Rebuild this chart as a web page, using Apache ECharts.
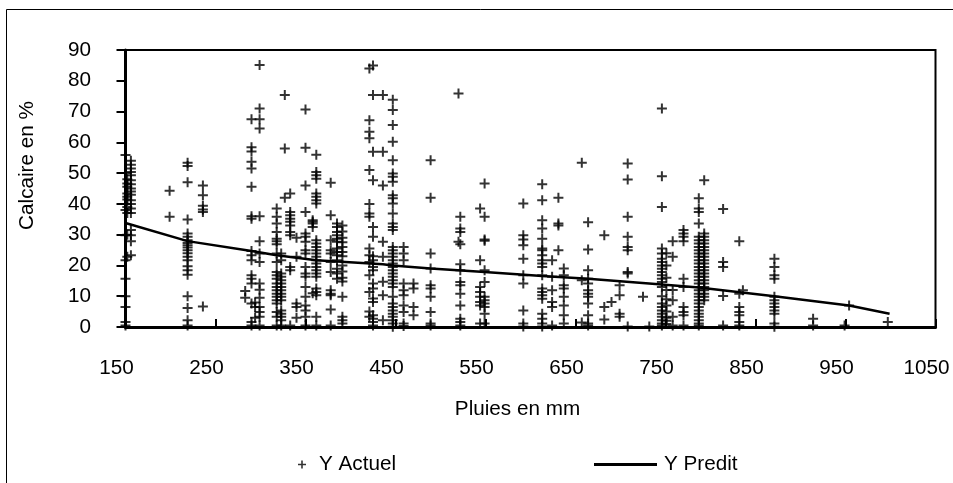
<!DOCTYPE html>
<html><head><meta charset="utf-8">
<style>html,body{margin:0;padding:0;background:#fff}#c{width:953px;height:483px}</style>
<script src="https://cdn.jsdelivr.net/npm/echarts@6/dist/echarts.min.js"></script>
</head><body><div id="c"></div>
<script>
const xTicks=[150,250,350,450,550,650,750,850,950,1050];
const yTicks=[0,10,20,30,40,50,60,70,80,90];
const pluies=[150,152,156,199,219,236,283,290,294,299,318,323,327,333,340,350,362,358,378,385,391,421,425,436,447,459,470,489,520,522,544,549,592,613,624,631,637,657,664,682,690,699,708,725,732,746,751,758,770,787,793,814,832,836,871,914,949,954,997];
const calcaire=[
[55.9,50,40,38,29.8,21.7,15.7,10,6.5,1.6,0.5],
[46.6,45.6,43.4,42.3,41.4,39,30,22.8,37,48],
[54,52.7,51.5,50.4,49.3,47.7,46.4,45,44,43,41.2,40,38.5,37,31.5,29.8,27.9,23.3],
[44.3,35.8],
[53.4,52.3,47,34.9,30.4,29.3,28.2,27.3,26.6,25.8,24.9,24,22.8,21.7,19.7,18.4,17,10,6.2,2.2,0.5],
[46,42.8,39.4,38.2,37.4,6.7],
[11.7,9.5],
[67.5,58.4,57,53.7,51.5,45.6,36,35.2,24.7,23.3,21.7,16.8,15.7,14.1,7.6,1.6,0.5],
[8,6.5,3],
[85.1,71,67.5,64.5,36,27.9,23.9,21.1,14.1,12.1,9.5,6.5,4.9,3.3,0.5],
[38.5,35.8,33.6,30.9,28.7,27.9,26.9,23.9,21.1,17.9,16.8,15.7,14.1,13,11.9,10.8,9.8,8.7,7.6,4.9,3.3,0.5],
[23.9,21.7,17.4,16.3,15.2,14.1,13,11.9,10.8,9.8,8.7,5.4,4.3,3.3,2.2,0.5],
[75.4,58,42],
[43.4,37.4,36.3,35.2,34.2,33,30.9,29.8,19.5,18.4,0.5],
[29,22.8,7.6,6.5,3],
[70.7,58.2,46,37.4,30.4,29.3,27.7,24.9,23.9,19.5,17.4,16.3,13,9.8,7,5.4,3.3,0.5],
[56,50.4,49.3,48.2,43.4,42.3,41.2,40.1,28.2,27.1,26,24.9,23.9,22.8,21.7,20.6,19.5,18.4,17.4,16.3,12.5,11.4,10.3,3.3,0.5],
[34.7,33.6,34.2,32.5,11],
[46.9,36.3,28.2,24.9,23.9,21.1,17.9,11.9,10.8,10.3,5.7,0.5],
[33.6,32.5,30.9,29.8,28.7,27.7,25.5,24.4,23.3,21.7,18.9,17.4,15.7],
[33,31,29,27.5,26,24.4,23,20,18,16,14.8,9.8,3.3,2.2,1.1],
[84,67.2,63.4,61.3,51,40,36.9,35.8,25.5,23.3,21.1,16.8,11.4,5,3.3],
[85,75.4,56.9,47.7,32.5,29.3,23,21.7,19.5,18.4,14.1,12.5,9.3,8.1,3.8,2.7,1.6,0.5],
[75.4,56.9,46,27.7,22.8,14.7,10.3,2.2],
[73.8,70.5,65.6,60.2,54.2,49.9,48.8,47.2,42.8,41.8,40.1,36.9,33.6,32.5,31.5,26,24.9,23.9,22.8,21.7,20.6,19.5,18.4,17.4,16.3,15.2,14.1,13,9.8,7.6,6.5,5.4,4.3,3.3,2.2,1.1,0.1],
[26,23.9,21.7,14.1,11.9,10.3,7,4.9,1.1,0.3],
[14.1,12.5,6.5,3.8],
[54.2,42,23.9,19,13.6,12.5,9.8,4.9,1.1,0.5],
[75.9,27.7],
[35.8,32,30.9,26.9,20.4,18.4,14.6,13.6,10.8,7,2.7,1.6,0.5],
[38.5,21.7,13,11.4,9.8,8.1,7,1.1],
[46.6,35.8,28.4,28,18.4,14.6,9.8,8.7,7.6,6.5,4.3,1.1],
[40.1,29.8,28.4,26.6,22.2,16.8,14.1,5.4,1.1,0.2],
[46.4,41.2,34.7,32,28.7,25.5,24.9,23.3,21.7,20.6,19.5,16.8,12.5,11.4,10.3,9.2,4.3,2.7,1.1,0.2],
[21.7,16.3,11.9,8.1,6.5,0.5],
[42,33.6,33,24.9],
[19,16.8,13.6,12.5,9.8,7,3.8,1.1],
[53.4,15.2,1.5],
[34,25.2,18.4,15.7,14.1,11.9,10.8,9.8,7.6,3.8,1.1,0.5],
[29.8,6.5,2.4],
[8.1],
[13.6,10.3,4.3,3.3],
[53.1,47.9,35.8,29.3,26,24.9,17.9,17.4,0.2],
[9.8],
[0.2],
[71,49,39,25.5,23.9,22.2,21.1,20,18.9,17.9,16.8,15.7,14.6,13,10,7.6,6.5,5.4,4.3,3.3,2.2,1.1,0.5],
[24,20,16,12,9,7,5,3,2,1],
[27.9,22.8,12,8.7,3.3,0.5],
[31.5,30.4,29.3,27.9,15.7,13,6.5,4.9,3.8,0.5],
[41.8,38.5,37.4,33.6,29.3,28.2,27.1,26,24.9,23.9,22.8,21.7,20.6,19.5,18.4,17.4,16.3,15.2,14.1,13,11.9,10.8,9.8,8.7,7.6,6.5,5.4,4.3,3.3,2.2,1.1,0.5],
[47.7,30.4,29.3,28.2,27.1,26,24.9,23.9,22.8,21.7,20.6,19.5,18.4,17.4,16.3,15.2,14.1,13,11.9,10.8,9.8,8.7],
[38.3,21.1,19.5,10.1,0.5],
[27.9,10.8,6.5,4.9,3.8,1.6,0.5],
[11.9],
[22.2,19.5,16.8,15.7,9.8,8.7,7.6,6.5,5.4,4.3,1.1,0.1],
[2.7,0.5],
[0.5],
[7],
[1.6]
];
const predX=[150,219,290,318,362,436,447,489,549,613,664,746,787,871,954,999];
const predY=[33.8,27.9,24.7,23.3,21.7,20.4,20,19,17.9,16.6,15.7,13.8,12.8,10,7,4.3];

const actual=[];
pluies.forEach((x,i)=>calcaire[i].forEach(y=>actual.push([x,y])));
const predicted=predX.map((x,i)=>[x,predY[i]]);
const plus='path://M4 0h2v4h4v2H6v4H4V6H0V4h4z';
const font={color:'#000',fontFamily:'"Liberation Sans",Arial,sans-serif',fontSize:20.7};
const chart=echarts.init(document.getElementById('c'),null,{renderer:'canvas'});
chart.setOption({
 animation:false,backgroundColor:'#fff',
 graphic:[{type:'rect',silent:true,shape:{x:6.5,y:9.5,width:960,height:480},style:{fill:'none',stroke:'#000',lineWidth:1}}],
 grid:{left:125.5,top:50,width:810,height:277,show:true,borderColor:'#000',borderWidth:2,backgroundColor:'#fff',outerBoundsMode:'none'},
 legend:[
  {data:[{name:'Y Actuel',icon:plus}],left:298,top:454,padding:0,itemWidth:8,itemHeight:8,itemGap:13,textStyle:{...font,padding:[0,0,0,8]}},
  {data:[{name:'Y Predit',icon:'rect'}],left:594,top:454,padding:0,itemWidth:63,itemHeight:3,itemGap:9,textStyle:{...font,padding:[0,0,0,2]}}
 ],
 xAxis:{type:'value',min:150,max:1050,name:'Pluies en mm',nameLocation:'middle',nameGap:72,
  nameTextStyle:{...font,padding:[0,26,0,0]},
  axisLine:{show:true,lineStyle:{color:'#000',width:3}},
  axisTick:{show:true,inside:true,length:8,customValues:xTicks,lineStyle:{color:'#000',width:2}},
  axisLabel:{...font,margin:31,customValues:xTicks,padding:[0,18,0,0],formatter:v=>String(v)},splitLine:{show:false}},
 yAxis:{type:'value',min:0,max:90,interval:10,name:'Calcaire en %',nameLocation:'middle',nameGap:88,
  nameTextStyle:{...font,padding:[0,0,0,46]},
  axisLine:{show:true,lineStyle:{color:'#000',width:3}},
  axisTick:{show:true,inside:false,length:9,lineStyle:{color:'#000',width:2}},
  axisLabel:{...font,margin:34.5},splitLine:{show:false}},
 series:[
  {name:'Y Actuel',type:'scatter',data:actual,symbol:plus,symbolSize:10,clip:false,itemStyle:{color:'#000'},z:3},
  {name:'Y Predit',type:'line',data:predicted,showSymbol:false,symbol:'none',lineStyle:{color:'#000',width:2.5},itemStyle:{color:'#000'},z:4}
 ]
});
</script></body></html>
